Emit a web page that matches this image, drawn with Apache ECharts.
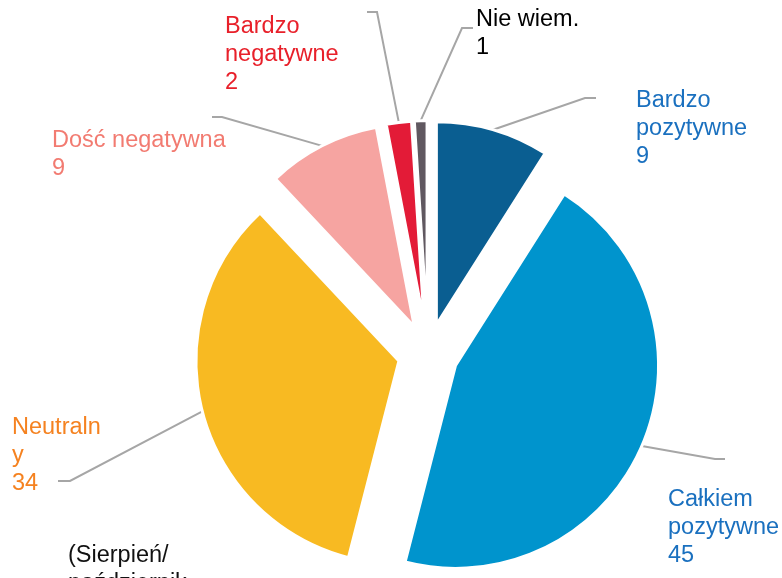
<!DOCTYPE html>
<html>
<head>
<meta charset="utf-8">
<script src="https://cdn.jsdelivr.net/npm/echarts@6/dist/echarts.min.js"></script>
<style>
  html, body { margin: 0; padding: 0; background: #fff; }
  #main { width: 782px; height: 578px; }
</style>
</head>
<body>
<div id="main"></div>
<script>
// dane wykresu
var categories = ['Bardzo pozytywne', 'Całkiem pozytywne', 'Neutralny', 'Dość negatywna', 'Bardzo negatywne', 'Nie wiem.'];
var values = [9, 45, 34, 9, 2, 1];
var note = '(Sierpień/\npaździernik';

// kolory wycinków i etykiet
var sliceColors = ['#0a5e91', '#0094cd', '#f8ba22', '#f6a4a1', '#e31b37', '#605860'];
var labelColors = ['#1a70bf', '#1a70bf', '#f58220', '#f27b71', '#e8202a', '#000000'];

// położenie etykiet i łamanie linii prowadzących
var labelSpots = [
  { x: 636, y: 87, bend: [585, 98], end: [596, 98], width: 125, overflow: 'break' },
  { x: 668, y: 486, bend: [715, 459], end: [725, 459], width: 125, overflow: 'break' },
  { x: 12, y: 414, bend: [70, 481], end: [58, 481], width: 92, overflow: 'breakAll' },
  { x: 52, y: 127, bend: [222, 117], end: [212, 117], width: 200, overflow: 'break' },
  { x: 225, y: 13, bend: [377, 12], end: [367, 12], width: 125, overflow: 'break' },
  { x: 476, y: 6, bend: [462, 28], end: [473, 28], width: 125, overflow: 'break' }
];

var CX = 428, CY = 353.5, R = 203, OFFSET = 30;

var myChart = echarts.init(document.getElementById('main'));

var total = values.reduce(function (a, b) { return a + b; }, 0);
var cum = 0;
var sliceCenters = values.map(function (v) {
  var bis = (cum + v / 2) / total * Math.PI * 2;
  cum += v;
  return { bis: bis, c: [CX + OFFSET * Math.sin(bis), CY - OFFSET * Math.cos(bis)] };
});

var series = values.map(function (v, i) {
  var sc = sliceCenters[i];
  var spot = labelSpots[i];
  return {
    type: 'pie',
    center: sc.c,
    radius: R,
    startAngle: 90,
    clockwise: true,
    silent: true,
    animation: false,
    avoidLabelOverlap: false,
    emphasis: { disabled: true },
    data: categories.map(function (name, j) {
      var own = j === i;
      return {
        name: name,
        value: values[j],
        itemStyle: own
          ? { color: sliceColors[j], borderColor: '#fff', borderWidth: 3 }
          : { color: 'rgba(0,0,0,0)', borderWidth: 0 },
        label: own
          ? {
              show: true,
              formatter: '{b}\n{c}',
              color: labelColors[j],
              fontFamily: 'Liberation Sans, Arial, sans-serif',
              fontSize: 23.5,
              lineHeight: 28,
              width: spot.width,
              overflow: spot.overflow
            }
          : { show: false },
        labelLine: own
          ? { show: true, lineStyle: { color: '#a6a6a6', width: 2 } }
          : { show: false }
      };
    }),
    labelLayout: function (p) {
      if (p.dataIndex !== i) return {};
      var start = [sc.c[0] + R * Math.sin(sc.bis), sc.c[1] - R * Math.cos(sc.bis)];
      return {
        x: spot.x,
        y: spot.y,
        align: 'left',
        verticalAlign: 'top',
        labelLinePoints: [start, spot.bend, spot.end]
      };
    }
  };
});

myChart.setOption({
  backgroundColor: '#fff',
  title: {
    text: note,
    left: 68,
    top: 542,
    padding: 0,
    textStyle: {
      color: '#111',
      fontWeight: 'normal',
      fontFamily: 'Liberation Sans, Arial, sans-serif',
      fontSize: 23.5,
      lineHeight: 28
    }
  },
  series: series
});
</script>
</body>
</html>
